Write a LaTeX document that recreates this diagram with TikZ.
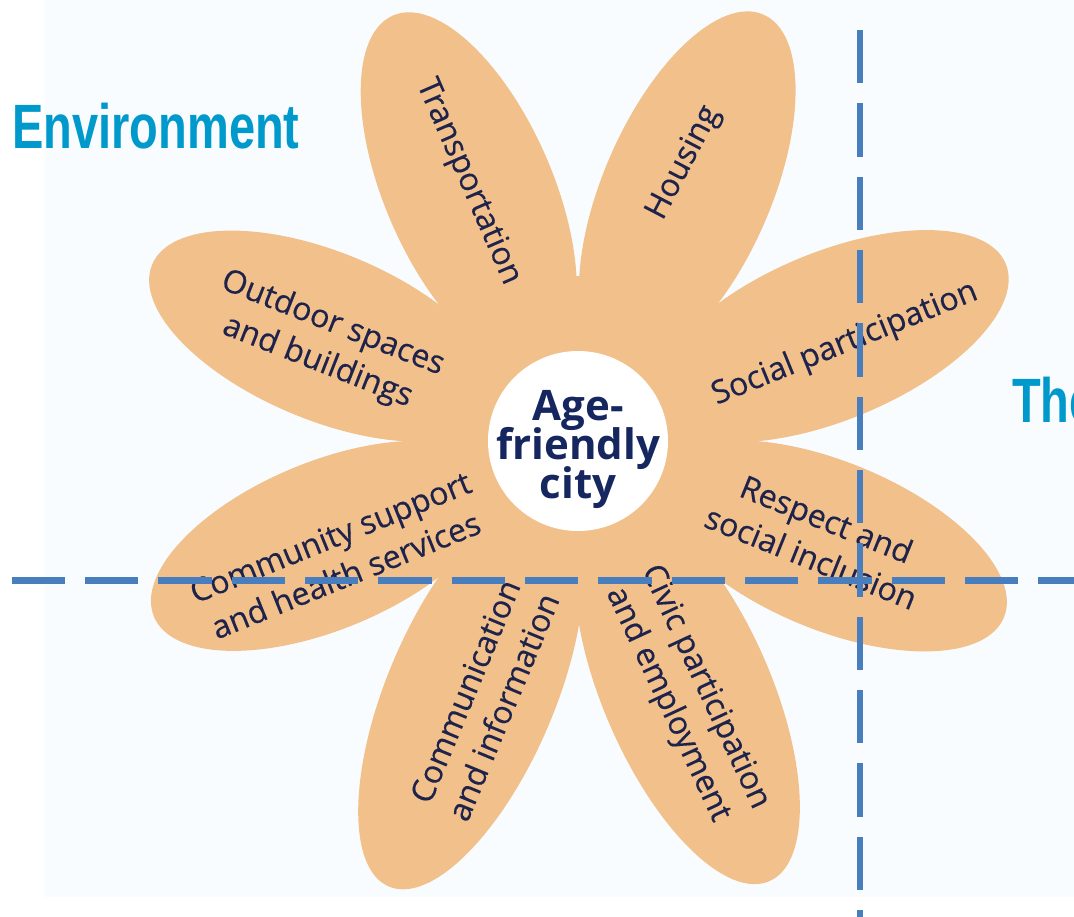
\documentclass[tikz,border=0pt]{standalone}
\usepackage{fontspec}
\usepackage{graphicx}
\setmainfont[FakeBold=0.35]{Open Sans}
\newfontfamily\envfont{Liberation Sans}
\newfontfamily\centerfont{Open Sans}
\definecolor{petal}{RGB}{242,192,138}
\definecolor{bgtint}{RGB}{249,252,254}
\definecolor{labelnavy}{RGB}{30,35,75}
\definecolor{centernavy}{RGB}{22,38,95}
\definecolor{envblue}{RGB}{0,153,204}
\definecolor{dashblue}{RGB}{72,126,190}
\tikzset{
  petallabel/.style={align=center, text=labelnavy, inner sep=0pt, font=\fontsize{24}{31}\selectfont},
  centerline/.style={anchor=base, text=centernavy, inner sep=0pt, font=\centerfont\bfseries\fontsize{31.5}{34}\selectfont},
  bigword/.style={anchor=base west, inner sep=0pt, text=envblue, font=\envfont\bfseries\fontsize{47}{50}\selectfont},
  dline/.style={draw=dashblue, line width=4.9pt, dash pattern=on 40pt off 15pt}
}
\begin{document}
\begin{tikzpicture}[x=0.75pt,y=-0.75pt]
\useasboundingbox (0,0) rectangle (1074,917);
\clip (0,0) rectangle (1074,917);
\fill[white] (0,0) rectangle (1074,917);
\fill[bgtint] (45,0) rectangle (1074,897);
\coordinate (c) at (578,441);
% petals: angle / semi-major axis (ellipse centre 274 from the flower centre)
\fill[petal] (c) circle[radius=165];
\foreach \ang/\semi in {113.5/190, 66.5/191, 22.5/189, -22.5/187, -66.5/206, -113/210, -157.5/185, 157.5/187} {
  \begin{scope}[shift={(c)}, rotate=\ang]
    \fill[petal] (274,0) ellipse[x radius=\semi, y radius=84];
  \end{scope}
}
% centre
\fill[white] (c) circle[radius=90];
\node[centerline] (age) at (578,420) {Age-};
\node[centerline] (friendly) at (578,459) {friendly};
\node[centerline] (city) at (578,498) {city};
% petal labels
\node[petallabel, rotate=-66.5] (transport) at (468,182) {Transportation};
\node[petallabel, rotate=62.5] (housing) at (684,163) {Housing};
\node[petallabel, rotate=22] (social) at (845,344) {Social participation};
\node[petallabel, rotate=-22] (respect) at (819,538) {Respect and\\social inclusion};
\node[petallabel, rotate=-65] (civic) at (686,696) {Civic participation\\and employment};
\node[petallabel, rotate=67.5] (communication) at (484,699) {Communication\\and information};
\node[petallabel, rotate=22] (community) at (338,556) {Community support\\and health services};
\node[petallabel, rotate=-21.5] (outdoor) at (325,343) {Outdoor spaces\\and buildings};
% dashed lines
\coordinate (hl) at (11.7,580.7);
\coordinate (hr) at (1074,580.7);
\coordinate (vt) at (860,30);
\coordinate (vb) at (860,917);
\draw[dline] (hl) -- (hr);
\draw[dline] (vt) -- (vb);
% headings
\node[bigword] (env) at (12,148) {\scalebox{0.75}[1]{Environment}};
\node[bigword] (the) at (1012,422) {\scalebox{0.75}[1]{The}};
\end{tikzpicture}
\end{document}
